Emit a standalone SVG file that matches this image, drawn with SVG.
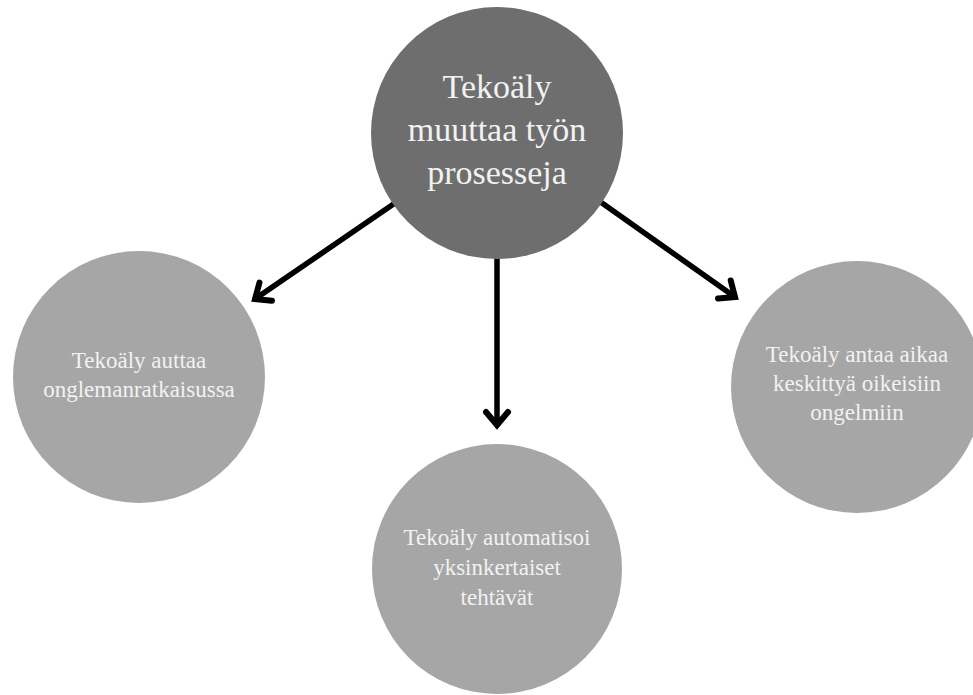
<svg xmlns="http://www.w3.org/2000/svg" width="973" height="695" viewBox="0 0 973 695">
<style>
.main{fill:#6e6e6e}
.sub{fill:#a6a6a6}
.t{font-family:"Liberation Serif","Times New Roman",serif;fill:#f2f2f2;text-anchor:middle}
.big{font-size:34px}
.small{font-size:23px}
.conn{stroke:#000;stroke-width:5.5;fill:none;stroke-linecap:round}
</style>
<defs>
<marker id="arr" markerUnits="userSpaceOnUse" markerWidth="40" markerHeight="40" refX="0" refY="0" viewBox="-20 -20 40 40" orient="auto" overflow="visible">
<path d="M-13,-11 L0,0 L-13,11" fill="none" stroke="#000" stroke-width="6" stroke-linecap="round" stroke-linejoin="miter"/>
</marker>
</defs>
<rect width="973" height="695" fill="#fff"/>
<g id="connectors">
<path class="conn" d="M395,203 L255,299" marker-end="url(#arr)"/>
<path class="conn" d="M497,258 L497,425" marker-end="url(#arr)"/>
<path class="conn" d="M602,203 L735,297" marker-end="url(#arr)"/>
</g>
<g id="node-main">
<circle class="main" cx="497" cy="133" r="126"/>
<text class="t big" x="497" y="98">Tekoäly</text>
<text class="t big" x="497" y="141">muuttaa työn</text>
<text class="t big" x="497" y="184">prosesseja</text>
</g>
<g id="node-left">
<circle class="sub" cx="139" cy="377" r="126"/>
<text class="t small" x="139" y="368">Tekoäly auttaa</text>
<text class="t small" x="139" y="397">onglemanratkaisussa</text>
</g>
<g id="node-bottom">
<circle class="sub" cx="497" cy="569" r="125"/>
<text class="t small" x="497" y="545">Tekoäly automatisoi</text>
<text class="t small" x="497" y="575">yksinkertaiset</text>
<text class="t small" x="497" y="605">tehtävät</text>
</g>
<g id="node-right">
<circle class="sub" cx="857" cy="387" r="126"/>
<text class="t small" x="857" y="362">Tekoäly antaa aikaa</text>
<text class="t small" x="857" y="391">keskittyä oikeisiin</text>
<text class="t small" x="857" y="420">ongelmiin</text>
</g>
</svg>
